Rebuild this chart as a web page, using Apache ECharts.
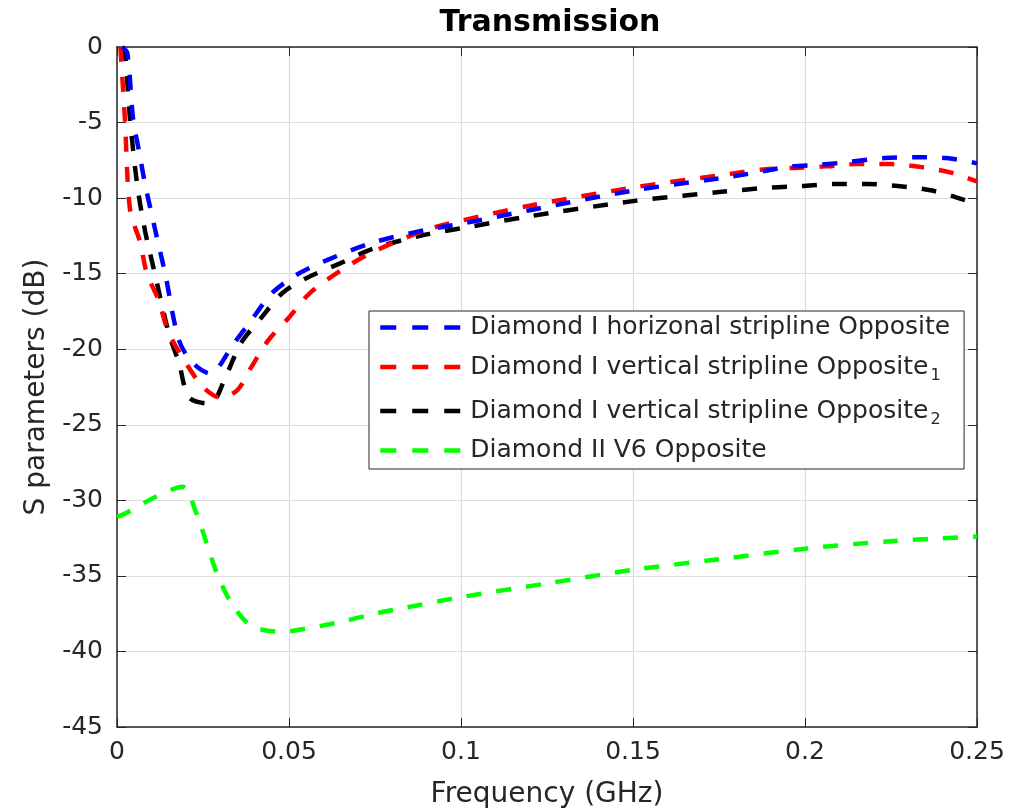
<!DOCTYPE html>
<html>
<head>
<meta charset="utf-8">
<script src="https://cdn.jsdelivr.net/npm/echarts@6/dist/echarts.min.js"></script>
<style>
  html, body { margin: 0; padding: 0; background: #fff; }
  #chart { width: 1012px; height: 810px; }
</style>
</head>
<body>
<div id="chart"></div>
<script>
// values (GHz, dB)
var blueFreq = [0.0015, 0.003, 0.0047, 0.0065, 0.0081, 0.011, 0.014, 0.018, 0.022, 0.027, 0.034, 0.039, 0.045, 0.052, 0.06, 0.075, 0.09, 0.1, 0.12, 0.15, 0.175, 0.186, 0.196, 0.204, 0.213, 0.223, 0.232, 0.241, 0.25];
var blueDb = [0, -0.4, -4.8, -7, -9.0, -12, -15, -19.4, -20.9, -21.6, -19.6, -18.1, -16.3, -15.1, -14.2, -12.9, -12.1, -11.7, -10.8, -9.5, -8.7, -8.3, -7.9, -7.8, -7.6, -7.35, -7.3, -7.35, -7.7];

var redFreq = [0.001, 0.0023, 0.0038, 0.0067, 0.0087, 0.012, 0.015, 0.020, 0.025, 0.03, 0.035, 0.039, 0.044, 0.050, 0.056, 0.065, 0.075, 0.09, 0.1, 0.12, 0.15, 0.175, 0.188, 0.197, 0.206, 0.215, 0.225, 0.234, 0.243, 0.25];
var redDb = [0, -4.8, -10.8, -12.9, -15, -16.7, -18.9, -20.9, -22.5, -23.2, -22.7, -21.2, -19.4, -17.9, -16.3, -14.8, -13.5, -12.1, -11.5, -10.5, -9.3, -8.5, -8.1, -8.0, -7.9, -7.75, -7.75, -7.95, -8.35, -8.9];

var blackFreq = [0.0015, 0.0023, 0.0038, 0.0058, 0.008, 0.011, 0.015, 0.018, 0.021, 0.027, 0.032, 0.036, 0.042, 0.048, 0.055, 0.065, 0.075, 0.09, 0.1, 0.12, 0.15, 0.175, 0.19, 0.199, 0.209, 0.218, 0.227, 0.237, 0.246, 0.25];
var blackDb = [0, -0.4, -4.8, -9.0, -12, -15, -18.9, -20.9, -23.2, -23.6, -21.6, -19.6, -17.9, -16.3, -15.3, -14.3, -13.3, -12.4, -12.0, -11.2, -10.2, -9.6, -9.3, -9.2, -9.07, -9.07, -9.2, -9.5, -10.1, -10.4];

var greenFreq = [0, 0.003, 0.011, 0.019, 0.023, 0.026, 0.029, 0.033, 0.039, 0.048, 0.057, 0.066, 0.075, 0.084, 0.1, 0.125, 0.15, 0.175, 0.2, 0.225, 0.25];
var greenDb = [-31.1, -30.8, -29.8, -29.1, -30.8, -32.8, -34.8, -36.7, -38.3, -38.7, -38.4, -38.0, -37.5, -37.1, -36.4, -35.5, -34.6, -33.9, -33.2, -32.7, -32.4];

var seriesNames = ['Diamond I horizonal stripline Opposite', 'Diamond I vertical stripline Opposite_1', 'Diamond I vertical stripline Opposite_2', 'Diamond II V6 Opposite'];
var seriesColors = ['#0000ff', '#ff0000', '#000000', '#00ff00'];

function pairs(xs, ys) {
    return xs.map((x, i) => [x, ys[i]]);
}

var chart = echarts.init(document.getElementById('chart'));

var axisColor = '#262626';
var fontFam = 'DejaVu Sans';

function makeSeries(idx, xs, ys) {
    return {
        name: seriesNames[idx],
        type: 'line',
        data: pairs(xs, ys),
        symbol: 'none',
        smooth: 0.3,
        clip: true,
        color: seriesColors[idx],
        lineStyle: { color: seriesColors[idx], width: 4.5, type: [15, 15] },
        z: 5 - idx
    };
}

var option = {
    animation: false,
    backgroundColor: '#fff',
    title: {
        text: 'Transmission',
        left: 545,
        textAlign: 'center',
        top: 3,
        textStyle: { fontFamily: fontFam, fontWeight: 'bold', fontSize: 30, color: '#000' }
    },
    grid: { left: 117, right: 35, top: 47, bottom: 83, outerBoundsMode: 'none', containLabel: false },
    legend: {
        orient: 'vertical',
        left: 369,
        top: 311,
        padding: [4, 14, 6, 9],
        itemGap: 10,
        itemWidth: 85,
        itemHeight: 14,
        backgroundColor: '#fff',
        borderColor: axisColor,
        borderWidth: 1,
        borderRadius: 0,
        data: seriesNames,
        itemStyle: { opacity: 0 },
        lineStyle: { width: 4.5, type: [16, 16] },
        formatter: function (name) {
            var m = name.match(/^(.*)_(\d)$/);
            if (m) return '{main|' + m[1] + '}{sub|' + m[2] + '}';
            return '{main|' + name + '}';
        },
        textStyle: {
            fontFamily: fontFam,
            fontSize: 25,
            color: axisColor,
            rich: {
                main: { fontFamily: fontFam, fontSize: 25, color: axisColor, lineHeight: 28 },
                sub: { fontFamily: fontFam, fontSize: 16, color: axisColor, lineHeight: 28, padding: [18, 0, 0, 2] }
            }
        }
    },
    xAxis: [{
        type: 'value',
        min: 0,
        max: 0.25,
        interval: 0.05,
        name: 'Frequency (GHz)',
        nameLocation: 'middle',
        nameGap: 54,
        nameTextStyle: { fontFamily: fontFam, fontSize: 28, color: axisColor },
        axisLine: { show: true, onZero: false, lineStyle: { color: axisColor, width: 1.5 } },
        axisTick: { show: true, inside: true, length: 9, lineStyle: { color: axisColor } },
        axisLabel: {
            fontFamily: fontFam, fontSize: 25, color: axisColor, margin: 13,
            formatter: function (v) { return String(+v.toFixed(2)); }
        },
        splitLine: { show: true, lineStyle: { color: '#dcdcdc', width: 1.2 } }
    }, {
        type: 'value',
        position: 'top',
        min: 0,
        max: 0.25,
        interval: 0.05,
        axisLine: { show: true, onZero: false, lineStyle: { color: axisColor, width: 1.5 } },
        axisTick: { show: true, inside: true, length: 9, lineStyle: { color: axisColor } },
        axisLabel: { show: false },
        splitLine: { show: false }
    }],
    yAxis: [{
        type: 'value',
        min: -45,
        max: 0,
        interval: 5,
        name: 'S parameters (dB)',
        nameLocation: 'middle',
        nameGap: 66,
        nameTextStyle: { fontFamily: fontFam, fontSize: 28, color: axisColor },
        axisLine: { show: true, onZero: false, lineStyle: { color: axisColor, width: 1.5 } },
        axisTick: { show: true, inside: true, length: 9, lineStyle: { color: axisColor } },
        axisLabel: { fontFamily: fontFam, fontSize: 25, color: axisColor, margin: 14 },
        splitLine: { show: true, lineStyle: { color: '#dcdcdc', width: 1.2 } }
    }, {
        type: 'value',
        position: 'right',
        min: -45,
        max: 0,
        interval: 5,
        axisLine: { show: true, onZero: false, lineStyle: { color: axisColor, width: 1.5 } },
        axisTick: { show: true, inside: true, length: 9, lineStyle: { color: axisColor } },
        axisLabel: { show: false },
        splitLine: { show: false }
    }],
    series: [
        makeSeries(0, blueFreq, blueDb),
        makeSeries(1, redFreq, redDb),
        makeSeries(2, blackFreq, blackDb),
        makeSeries(3, greenFreq, greenDb)
    ]
};

option && chart.setOption(option);
</script>
</body>
</html>
